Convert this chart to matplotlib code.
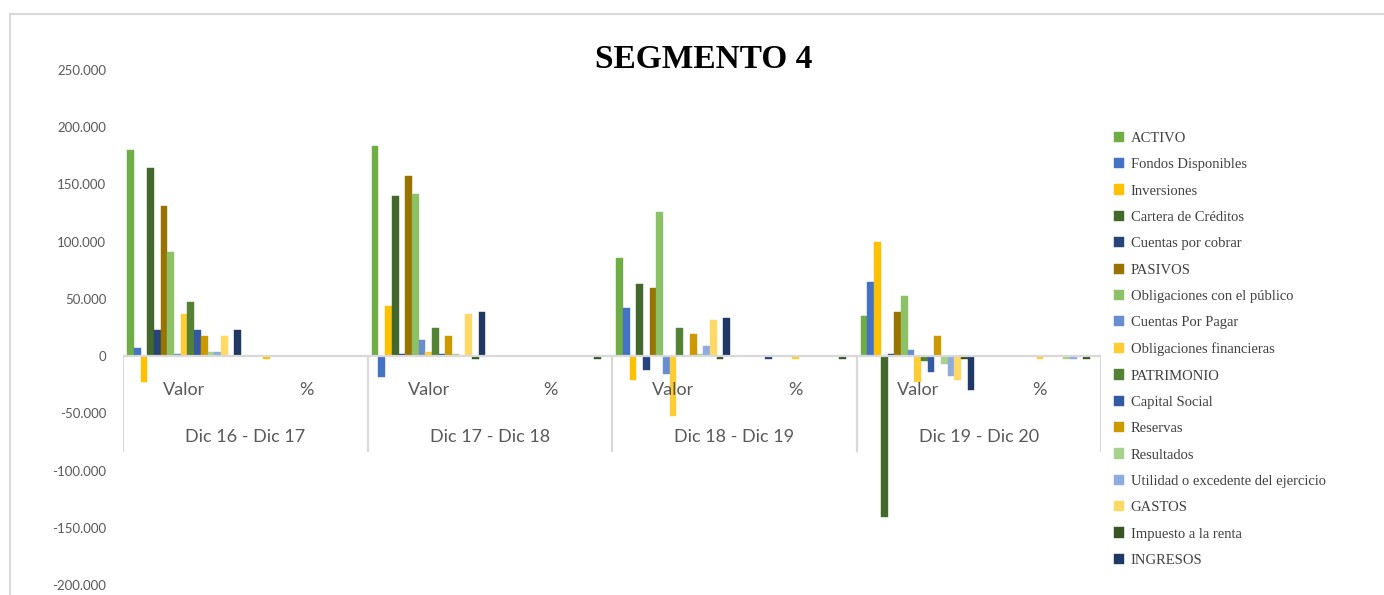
import numpy as np
import matplotlib.pyplot as plt
from matplotlib.patches import Rectangle
from matplotlib.lines import Line2D

## Data: changes per period, "Valor" and "%" columns
periodos = ['Dic 16 - Dic 17', 'Dic 17 - Dic 18', 'Dic 18 - Dic 19', 'Dic 19 - Dic 20']
columnas = ['Valor', '%']

series = ['ACTIVO', 'Fondos Disponibles', 'Inversiones', 'Cartera de Créditos',
          'Cuentas por cobrar', 'PASIVOS', 'Obligaciones con el público',
          'Cuentas Por Pagar', 'Obligaciones financieras', 'PATRIMONIO',
          'Capital Social', 'Reservas', 'Resultados',
          'Utilidad o excedente del ejercicio', 'GASTOS', 'Impuesto a la renta',
          'INGRESOS']

# one row per series, 8 values: (Valor, %) for each period
activo       = [180500, 0, 184000, 0, 86100, 0, 35400, 0]
fondos       = [7500, 0, -18000, 0, 42400, 0, 65100, 0]
inversiones  = [-23000, -2500, 44100, 0, -20500, 0, 100100, 0]
cartera      = [164700, 0, 140300, 0, 63400, 0, -140900, 0]
cxc          = [23200, 0, 2200, 0, -11800, -2500, 2200, 0]
pasivos      = [131500, 0, 157800, 0, 59900, 0, 38900, 0]
oblig_pub    = [91300, 0, 142000, 0, 126300, 0, 52900, 0]
cxp          = [2200, 0, 14400, 0, -15300, 0, 5700, 0]
oblig_fin    = [37100, 0, 3900, 0, -52000, -2500, -22300, -2500]
patrimonio   = [47600, 0, 24900, 0, 24900, 0, -4400, 0]
capital      = [23200, 0, 2200, 0, 0, 0, -13500, 0]
reservas     = [17900, 0, 17900, 0, 19700, 0, 17900, 0]
resultados   = [3900, 0, 2200, 0, 2200, 0, -6600, -2500]
utilidad     = [3900, 0, 0, 0, 9200, 0, -17000, -2500]
gastos       = [17900, 0, 37100, 0, 31900, 0, -20500, 0]
impuesto     = [0, 0, -2500, -2500, -2500, -2500, -2500, -2500]
ingresos     = [23200, 0, 38900, 0, 33600, 0, -29300, 0]

valores = [activo, fondos, inversiones, cartera, cxc, pasivos, oblig_pub, cxp,
           oblig_fin, patrimonio, capital, reservas, resultados, utilidad,
           gastos, impuesto, ingresos]

colores = ['#70AD47', '#4472C4', '#FFC000', '#43682B', '#264478', '#997300',
           '#8CC168', '#698ED0', '#FFCD33', '#548235', '#335AA1', '#CC9A00',
           '#A9D18E', '#8FAADC', '#FFD966', '#375623', '#1F3864']

## Figure
fig = plt.figure(figsize=(13.84, 5.95), dpi=100)
fig.patches.append(Rectangle((10 / 1384, -0.01), 1.02, 1 - 14 / 595 + 0.01,
                             transform=fig.transFigure, fill=False,
                             edgecolor='#D9D9D9', linewidth=1.5))

ax = fig.add_axes([123 / 1384, 1 - 585 / 595, 978 / 1384, (585 - 70) / 595])
ax.set_ylim(-200000, 250000)
ax.set_xlim(0, 8)

n = len(series)
ancho = 0.93 / n
x = np.arange(8)
for i, (nombre, vals, c) in enumerate(zip(series, valores, colores)):
    ax.bar(x + 0.035 + ancho * (i + 0.5), vals, width=ancho, color=c,
           label=nombre, align='center', edgecolor=c, linewidth=0.3)

for s in ax.spines.values():
    s.set_visible(False)
ax.set_xticks([])
ax.set_yticks(np.arange(-200000, 250001, 50000))
ax.set_yticklabels(['{:,}'.format(v).replace(',', '.') for v in range(-200000, 250001, 50000)],
                   fontsize=9.5, color='#595959', family='Lato', va='top')
ax.tick_params(axis='y', length=0, pad=12)
for t in ax.get_yticklabels():
    t.set_verticalalignment('center_baseline')

# category axis with two levels of labels
ax.axhline(0, color='#D9D9D9', linewidth=1.6, zorder=1)
px = 450000 / 515
for g in range(5):
    ax.add_line(Line2D([2 * g, 2 * g], [0, -95 * px], color='#D9D9D9', linewidth=1.6))
for k in range(8):
    ax.text(k + 0.5, -34 * px, columnas[k % 2], ha='center', va='center',
            fontsize=13, color='#595959', family='Lato')
for g, p in enumerate(periodos):
    ax.text(2 * g + 1, -81 * px, p, ha='center', va='center',
            fontsize=13, color='#595959', family='Lato')

fig.text(704 / 1384, 1 - 59 / 595, 'SEGMENTO 4', ha='center', va='center',
         fontsize=24, fontweight='bold', family='Liberation Serif')

leg = fig.legend(loc='upper left', bbox_to_anchor=(1108 / 1384, 1 - 126 / 595),
                 frameon=False, prop={'family': 'Liberation Serif', 'size': 10.5},
                 handlelength=0.7, handleheight=0.7, handletextpad=0.45,
                 labelspacing=0.9, borderaxespad=0)
for t in leg.get_texts():
    t.set_color('#404040')

fig.savefig('out.png', dpi=100)
